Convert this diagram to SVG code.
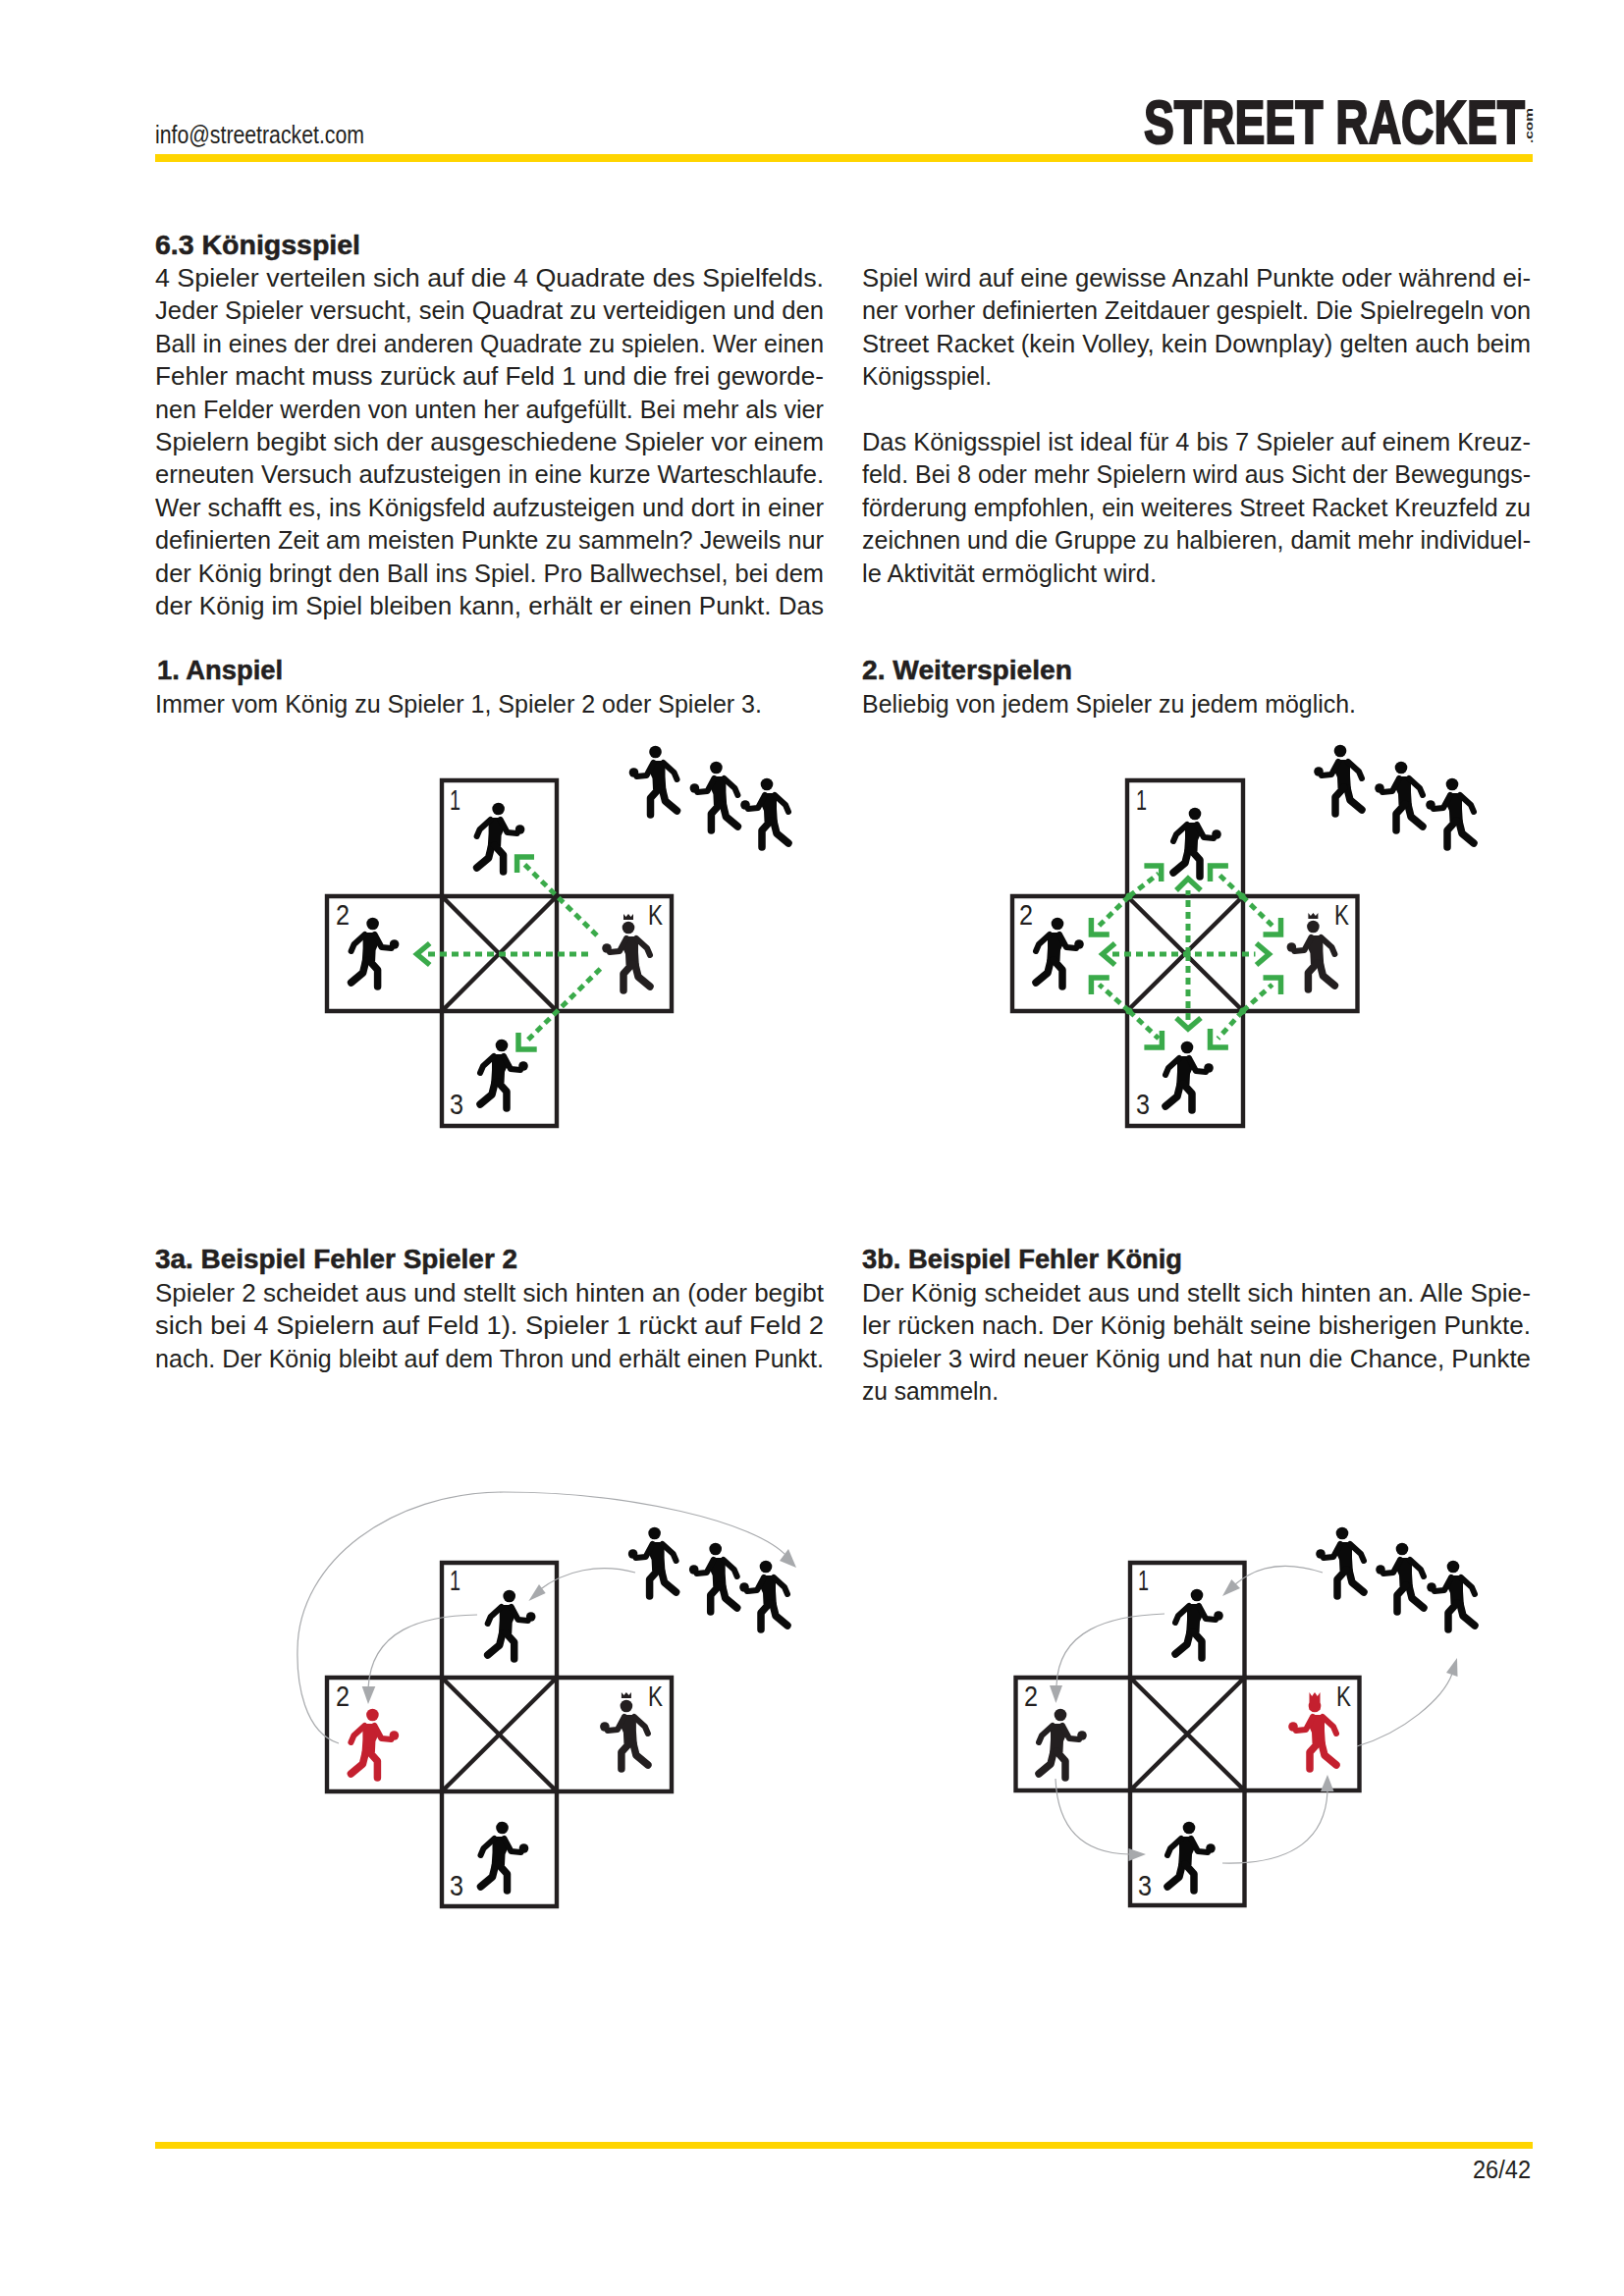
<svg xmlns="http://www.w3.org/2000/svg" width="1654" height="2339" viewBox="0 0 1654 2339">
<style>
text{font-family:"Liberation Sans Narrow","Liberation Sans",Arial,sans-serif;fill:#231f20}
.b{font-size:26.500px}
.h{font-size:27px;font-weight:bold;stroke:#231f20;stroke-width:0.500}
.l{font-size:30px}
.box{fill:none;stroke:#231f20;stroke-width:4.400}
.xl{stroke:#231f20;stroke-width:4.400;fill:none}
.g{stroke:#3aaa4a;stroke-width:5;stroke-dasharray:7 5;fill:none}
.gh{stroke:#3aaa4a;stroke-width:5.500;fill:none}
.gd{fill:#3aaa4a}
.c{stroke:#a7a9ac;stroke-width:1.200;fill:none}
.ah{fill:#a7a9ac}
.bk{color:#0a0a0a}
.kg{color:#231f20}
.rd{color:#c4202f}
</style>
<defs>
<g id="person">
<circle cx="0" cy="0" r="6.300" fill="currentColor"/>
<path d="M-10 9L4 9L7 18L3 27L2.500 38L-1 41L-11 41L-10 25Z" fill="currentColor"/>
<g fill="none" stroke="currentColor" stroke-linecap="round" stroke-linejoin="round">
<path d="M-8 11L-19 21L-22 28" stroke-width="6"/>
<path d="M2 11L9 24L19 25" stroke-width="6"/>
<path d="M-7 38L-10 50L-22 60" stroke-width="7.500"/>
<path d="M-4 37L5 47L5 64" stroke-width="7.500"/>
</g>
<circle cx="22" cy="21" r="4.800" fill="currentColor"/>
</g>
<path id="crown" d="M-5 -14L-5 -8L5 -8L5 -14L2.500 -11L0 -14L-2.500 -11Z" fill="currentColor"/>
<path id="crownred" d="M-5.500 -14L-5.500 4L5.500 4L5.500 -14L2.800 -10L0 -14L-2.800 -10Z" fill="currentColor"/>
</defs>

<g id="header">
<text x="158" y="145.500" textLength="213" lengthAdjust="spacingAndGlyphs" style="font-size:25px">info@streetracket.com</text>
<text x="1165" y="146" textLength="388" lengthAdjust="spacingAndGlyphs" style="font-size:63px;font-weight:bold;stroke:#231f20;stroke-width:2.200">STREET RACKET</text>
<text transform="translate(1561 146) rotate(-90)" textLength="36" lengthAdjust="spacingAndGlyphs" style="font-size:11px;font-weight:bold">.com</text>
<rect x="158" y="157" width="1403" height="8" fill="#ffd500"/>
</g>

<g id="text-left">
<text class="h" x="158" y="259" textLength="209" lengthAdjust="spacingAndGlyphs">6.3  Königsspiel</text>
<text class="b" x="158" y="292" textLength="681" lengthAdjust="spacingAndGlyphs">4 Spieler verteilen sich auf die 4 Quadrate des Spielfelds.</text>
<text class="b" x="158" y="325.400" textLength="681" lengthAdjust="spacingAndGlyphs">Jeder Spieler versucht, sein Quadrat zu verteidigen und den</text>
<text class="b" x="158" y="358.800" textLength="681" lengthAdjust="spacingAndGlyphs">Ball in eines der drei anderen Quadrate zu spielen. Wer einen</text>
<text class="b" x="158" y="392.200" textLength="681" lengthAdjust="spacingAndGlyphs">Fehler macht muss zurück auf Feld 1 und die frei geworde-</text>
<text class="b" x="158" y="425.600" textLength="681" lengthAdjust="spacingAndGlyphs">nen Felder werden von unten her aufgefüllt. Bei mehr als vier</text>
<text class="b" x="158" y="459" textLength="681" lengthAdjust="spacingAndGlyphs">Spielern begibt sich der ausgeschiedene Spieler vor einem</text>
<text class="b" x="158" y="492.400" textLength="681" lengthAdjust="spacingAndGlyphs">erneuten Versuch aufzusteigen in eine kurze Warteschlaufe.</text>
<text class="b" x="158" y="525.800" textLength="681" lengthAdjust="spacingAndGlyphs">Wer schafft es, ins Königsfeld aufzusteigen und dort in einer</text>
<text class="b" x="158" y="559.200" textLength="681" lengthAdjust="spacingAndGlyphs">definierten Zeit am meisten Punkte zu sammeln? Jeweils nur</text>
<text class="b" x="158" y="592.600" textLength="681" lengthAdjust="spacingAndGlyphs">der König bringt den Ball ins Spiel. Pro Ballwechsel, bei dem</text>
<text class="b" x="158" y="626" textLength="681" lengthAdjust="spacingAndGlyphs">der König im Spiel bleiben kann, erhält er einen Punkt. Das</text>
<text class="h" x="160" y="692" textLength="128" lengthAdjust="spacingAndGlyphs">1. Anspiel</text>
<text class="b" x="158" y="725.700" textLength="618" lengthAdjust="spacingAndGlyphs">Immer vom König zu Spieler 1, Spieler 2 oder Spieler 3.</text>
<text class="h" x="158" y="1292" textLength="369" lengthAdjust="spacingAndGlyphs">3a. Beispiel Fehler Spieler 2</text>
<text class="b" x="158" y="1325.500" textLength="681" lengthAdjust="spacingAndGlyphs">Spieler 2 scheidet aus und stellt sich hinten an (oder begibt</text>
<text class="b" x="158" y="1359" textLength="681" lengthAdjust="spacingAndGlyphs">sich bei 4 Spielern auf Feld 1). Spieler 1 rückt auf Feld 2</text>
<text class="b" x="158" y="1392.500" textLength="681" lengthAdjust="spacingAndGlyphs">nach. Der König bleibt auf dem Thron und erhält einen Punkt.</text>
</g>

<g id="text-right">
<text class="b" x="878" y="292" textLength="681" lengthAdjust="spacingAndGlyphs">Spiel wird auf eine gewisse Anzahl Punkte oder während ei-</text>
<text class="b" x="878" y="325.400" textLength="681" lengthAdjust="spacingAndGlyphs">ner vorher definierten Zeitdauer gespielt. Die Spielregeln von</text>
<text class="b" x="878" y="358.800" textLength="681" lengthAdjust="spacingAndGlyphs">Street Racket (kein Volley, kein Downplay) gelten auch beim</text>
<text class="b" x="878" y="392.200" textLength="132" lengthAdjust="spacingAndGlyphs">Königsspiel.</text>
<text class="b" x="878" y="459" textLength="681" lengthAdjust="spacingAndGlyphs">Das Königsspiel ist ideal für 4 bis 7 Spieler auf einem Kreuz-</text>
<text class="b" x="878" y="492.400" textLength="681" lengthAdjust="spacingAndGlyphs">feld. Bei 8 oder mehr Spielern wird aus Sicht der Bewegungs-</text>
<text class="b" x="878" y="525.800" textLength="681" lengthAdjust="spacingAndGlyphs">förderung empfohlen, ein weiteres Street Racket Kreuzfeld zu</text>
<text class="b" x="878" y="559.200" textLength="681" lengthAdjust="spacingAndGlyphs">zeichnen und die Gruppe zu halbieren, damit mehr individuel-</text>
<text class="b" x="878" y="592.600" textLength="300" lengthAdjust="spacingAndGlyphs">le Aktivität ermöglicht wird.</text>
<text class="h" x="878" y="692" textLength="214" lengthAdjust="spacingAndGlyphs">2. Weiterspielen</text>
<text class="b" x="878" y="725.700" textLength="503" lengthAdjust="spacingAndGlyphs">Beliebig von jedem Spieler zu jedem möglich.</text>
<text class="h" x="878" y="1292" textLength="326" lengthAdjust="spacingAndGlyphs">3b. Beispiel Fehler König</text>
<text class="b" x="878" y="1325.500" textLength="681" lengthAdjust="spacingAndGlyphs">Der König scheidet aus und stellt sich hinten an. Alle Spie-</text>
<text class="b" x="878" y="1359" textLength="681" lengthAdjust="spacingAndGlyphs">ler rücken nach. Der König behält seine bisherigen Punkte.</text>
<text class="b" x="878" y="1392.500" textLength="681" lengthAdjust="spacingAndGlyphs">Spieler 3 wird neuer König und hat nun die Chance, Punkte</text>
<text class="b" x="878" y="1426" textLength="139" lengthAdjust="spacingAndGlyphs">zu sammeln.</text>
</g>

<g id="diagram-1">
<path class="box" d="M450 795H567V913H684V1030H567V1147H450V1030H333V913H450Z"/>
<path class="xl" d="M450 913H567V1030H450ZM450 913L567 1030M567 913L450 1030"/>
<text class="l" x="458" y="825" textLength="11" lengthAdjust="spacingAndGlyphs">1</text>
<text class="l" x="342" y="942" textLength="14" lengthAdjust="spacingAndGlyphs">2</text>
<text class="l" x="458" y="1135" textLength="14" lengthAdjust="spacingAndGlyphs">3</text>
<text class="l" x="660" y="942" textLength="15" lengthAdjust="spacingAndGlyphs">K</text>
<use href="#person" class="bk" transform="translate(507.600 824)"/>
<use href="#person" class="bk" transform="translate(379.600 941)"/>
<use href="#person" class="bk" transform="translate(511 1065)"/>
<g class="kg" transform="translate(640 945) scale(-1 1)"><use href="#person"/><use href="#crown"/></g>
<use href="#person" class="bk" transform="translate(667.500 766) scale(-1 1)"/>
<use href="#person" class="bk" transform="translate(729.400 782) scale(-1 1)"/>
<use href="#person" class="bk" transform="translate(781 799) scale(-1 1)"/>
</g>
<g id="connectors-1">
<path class="g" d="M608 953L533.600 880"/>
<path class="g" d="M599 972L435 972"/>
<path class="g" d="M611.400 987L537 1060"/>
<path class="gh" d="M544 873H526.600V889"/>
<path class="gh" d="M437.700 961L424.600 972L437.700 983"/>
<path class="gh" d="M528 1052V1069H546.700"/>
</g>

<g id="diagram-2">
<path class="box" d="M1148 795H1266V913H1382.500V1030H1266V1147H1148V1030H1031V913H1148Z"/>
<path class="xl" d="M1148 913H1266V1030H1148ZM1148 913L1266 1030M1266 913L1148 1030"/>
<text class="l" x="1157" y="825" textLength="11" lengthAdjust="spacingAndGlyphs">1</text>
<text class="l" x="1038" y="942" textLength="14" lengthAdjust="spacingAndGlyphs">2</text>
<text class="l" x="1157" y="1135" textLength="14" lengthAdjust="spacingAndGlyphs">3</text>
<text class="l" x="1359" y="942" textLength="15" lengthAdjust="spacingAndGlyphs">K</text>
<use href="#person" class="bk" transform="translate(1217 829)"/>
<use href="#person" class="bk" transform="translate(1077 941)"/>
<use href="#person" class="bk" transform="translate(1209 1067)"/>
<g class="kg" transform="translate(1337.400 944) scale(-1 1)"><use href="#person"/><use href="#crown"/></g>
<use href="#person" class="bk" transform="translate(1365 765) scale(-1 1)"/>
<use href="#person" class="bk" transform="translate(1427 782) scale(-1 1)"/>
<use href="#person" class="bk" transform="translate(1479 799) scale(-1 1)"/>
</g>
<g id="connectors-2">
<path class="g" d="M1210 972V907M1210 972V1040M1133 972H1278.500"/>
<path class="gh" d="M1198 907L1210 895L1223 907M1198 1037L1210 1048L1223 1037M1135.600 961L1122.800 972L1135.600 983M1279.600 961L1292.400 972L1279.600 983"/>
<path class="g" d="M1150 913L1180 890M1150 913L1119.400 943M1265 913L1240.500 890M1265 913L1295.800 943M1150 1030L1119.400 1003M1150 1030L1180 1058M1265.700 1030L1295.800 1003M1265.700 1030L1240.500 1058"/>
<path class="gh" d="M1165.400 882H1182.700V898M1111.400 935V952H1129.800M1250.900 882H1232.500V898M1286.500 952H1304.500V935M1129.800 996H1111.400V1013M1165.400 1067H1183.400V1050M1286.500 996H1304.500V1013M1232.500 1048V1067H1250.900"/>
<circle class="gd" cx="1150" cy="913" r="3.500"/><circle class="gd" cx="1265" cy="913" r="3.500"/><circle class="gd" cx="1150" cy="1030" r="3.500"/><circle class="gd" cx="1265.700" cy="1030" r="3.500"/><circle class="gd" cx="1209" cy="972" r="3.500"/>
</g>

<g id="diagram-3">
<path class="box" d="M450 1592H567V1709H684V1825H567V1942H450V1825H333V1709H450Z"/>
<path class="xl" d="M450 1709H567V1825H450ZM450 1709L567 1825M567 1709L450 1825"/>
<text class="l" x="458" y="1620" textLength="11" lengthAdjust="spacingAndGlyphs">1</text>
<text class="l" x="342" y="1738" textLength="14" lengthAdjust="spacingAndGlyphs">2</text>
<text class="l" x="458" y="1931" textLength="14" lengthAdjust="spacingAndGlyphs">3</text>
<text class="l" x="660" y="1738" textLength="15" lengthAdjust="spacingAndGlyphs">K</text>
<use href="#person" class="bk" transform="translate(518.700 1626)"/>
<use href="#person" class="rd" transform="translate(379.400 1747)"/>
<use href="#person" class="bk" transform="translate(511.500 1862)"/>
<g class="kg" transform="translate(637.900 1738) scale(-1 1)"><use href="#person"/><use href="#crown"/></g>
<use href="#person" class="bk" transform="translate(666.600 1562) scale(-1 1)"/>
<use href="#person" class="bk" transform="translate(728.700 1578) scale(-1 1)"/>
<use href="#person" class="bk" transform="translate(780 1596) scale(-1 1)"/>
</g>
<g id="connectors-3">
<path class="c" d="M345 1776C310 1765 302 1715 303 1680C304 1590 400 1520 513 1520C640 1520 770 1550 802 1586"/>
<path class="ah" d="M811 1597L803 1578L794 1590Z"/>
<path class="c" d="M647 1602C610 1592 575 1600 549 1620"/>
<path class="ah" d="M538.400 1631L549 1614L555.700 1623Z"/>
<path class="c" d="M486 1645C430 1646 378 1660 375 1720"/>
<path class="ah" d="M375 1736L368.700 1718L382.300 1718Z"/>
</g>

<g id="diagram-4">
<path class="box" d="M1151 1592H1267.500V1709H1384.500V1824H1267.500V1941H1151V1824H1034.500V1709H1151Z"/>
<path class="xl" d="M1151 1709H1267.500V1824H1151ZM1151 1709L1267.500 1824M1267.500 1709L1151 1824"/>
<text class="l" x="1159" y="1620" textLength="11" lengthAdjust="spacingAndGlyphs">1</text>
<text class="l" x="1043" y="1738" textLength="14" lengthAdjust="spacingAndGlyphs">2</text>
<text class="l" x="1159" y="1931" textLength="14" lengthAdjust="spacingAndGlyphs">3</text>
<text class="l" x="1361" y="1738" textLength="15" lengthAdjust="spacingAndGlyphs">K</text>
<use href="#person" class="bk" transform="translate(1219 1625)"/>
<use href="#person" class="kg" transform="translate(1080 1747)"/>
<use href="#person" class="bk" transform="translate(1211 1862)"/>
<g class="rd" transform="translate(1339 1738) scale(-1 1)"><use href="#person"/><use href="#crownred"/></g>
<use href="#person" class="bk" transform="translate(1367 1562) scale(-1 1)"/>
<use href="#person" class="bk" transform="translate(1428 1578) scale(-1 1)"/>
<use href="#person" class="bk" transform="translate(1480 1596) scale(-1 1)"/>
</g>
<g id="connectors-4">
<path class="c" d="M1347 1602C1310 1590 1280 1595 1258 1614"/>
<path class="ah" d="M1245 1626L1254.300 1609L1263 1618Z"/>
<path class="c" d="M1186 1644C1130 1646 1078 1660 1076 1717"/>
<path class="ah" d="M1075.400 1735L1069 1717L1082 1717Z"/>
<path class="c" d="M1075 1812C1077 1860 1100 1888 1150 1889"/>
<path class="ah" d="M1167 1889L1149.500 1883L1149.500 1896Z"/>
<path class="c" d="M1245 1898C1320 1900 1350 1870 1352 1825"/>
<path class="ah" d="M1352 1808L1345 1825L1358.500 1825Z"/>
<path class="c" d="M1382 1779C1430 1765 1470 1730 1479 1705"/>
<path class="ah" d="M1484 1689L1473 1704L1484.500 1708Z"/>
</g>

<g id="footer">
<rect x="158" y="2182" width="1403" height="7" fill="#ffd500"/>
<text x="1500" y="2219" textLength="59" lengthAdjust="spacingAndGlyphs" style="font-size:25px">26/42</text>
</g>
</svg>
